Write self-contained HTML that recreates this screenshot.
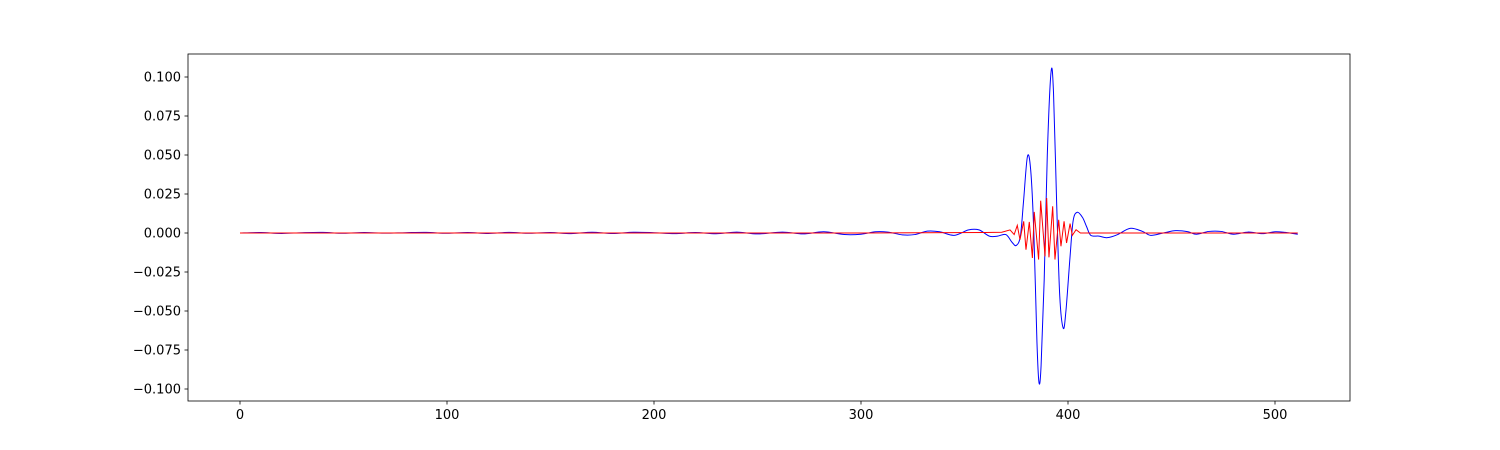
<!DOCTYPE html>
<html><head><meta charset="utf-8"><style>
body{margin:0;background:#fff;}
svg{display:block;font-family:"DejaVu Sans","Liberation Sans",sans-serif;}
</style></head><body>
<svg id="chart" width="1500" height="450" viewBox="0 0 1500 450"></svg>
<script>
const xTicks=[0,100,200,300,400,500];
const yTicks=[-0.100,-0.075,-0.050,-0.025,0.000,0.025,0.050,0.075,0.100];
const blueIdx=[0,10,20,30,40,50,60,70,80,90,100,110,120,130,140,150,160,170,180,190,200,210,220,230,240,250,262,272,282,292,300,307,313,320,326,332,338,345,352,357,362,366,370,373,375,377,378.5,380.4,382,383.5,385,386,387,388.5,390,391.8,393,394.5,396,397.7,399,401,402.5,404.5,407,409,411,415,419,424,430,436,440,446,452,458,462,468,474,480,487,494,500,505,511];
const blueVal=[0,0.0003,-0.0003,0.0002,0.0004,-0.0002,0.0003,-0.0001,0.0002,0.0004,-0.0002,0.0003,-0.0003,0.0004,-0.0002,0.0003,-0.0004,0.0005,-0.0003,0.0005,0.0002,-0.0004,0.0003,-0.0005,0.0006,-0.0006,0.0006,-0.0006,0.0008,-0.001,-0.0008,0.0008,0.0006,-0.0012,-0.001,0.0012,0.0008,-0.0015,0.002,0.002,-0.002,-0.002,-0.001,-0.006,-0.008,-0.002,0.02,0.049,0.04,0.0,-0.07,-0.096,-0.085,-0.03,0.05,0.103,0.09,0.02,-0.04,-0.061,-0.05,-0.015,0.008,0.0133,0.01,0.004,-0.0015,-0.002,-0.003,-0.001,0.003,0.001,-0.0015,0,0.0015,0.0008,-0.0008,0.001,0.001,-0.0008,0.0006,-0.0004,0.0008,0.0004,-0.0008];
const redIdx=[0,100,200,300,360,368,372,374,375.5,376.8,378.6,379.7,381.3,382.8,383.7,385.8,386.8,388.9,389.7,390.8,392.6,393.7,395.5,396.6,398.1,399.3,401,402.1,403.9,406,411];
const redVal=[0,0,0,0,0.0003,0.0005,0.002,-0.001,0.0049,-0.0043,0.0075,-0.0107,0.0071,-0.016,0.0135,-0.017,0.0207,-0.015,0.0224,-0.0156,0.0171,-0.017,0.0085,-0.0085,0.0075,-0.0064,0.006,-0.0015,0.0021,0,0];
const redTail=[412,511];
const redTailVal=[0,0];

const svg=document.getElementById('chart');
const NS='http://www.w3.org/2000/svg';
const L=188,R=1350,T=54,B=401;
const xs=v=>240+v*2.07;
const ys=v=>233-v*1560;
function mk(tag,attrs,parent){const e=document.createElementNS(NS,tag);for(const k in attrs)e.setAttribute(k,attrs[k]);(parent||svg).appendChild(e);return e;}

const frame=mk('rect',{x:L,y:T,width:R-L,height:B-T,fill:'none',stroke:'#000','stroke-width':0.8});



xTicks.forEach(t=>{
  const g=mk('g',{});
  
  
  mk('line',{x1:xs(t),x2:xs(t),y1:B,y2:B+3.5,stroke:'#000','stroke-width':0.8},g);
  const tx=mk('text',{x:xs(t),y:B+18,'text-anchor':'middle','font-size':13,fill:'#000'},g);
  tx.textContent=t;
});
yTicks.forEach(t=>{
  const g=mk('g',{});
  
  
  mk('line',{x1:L,x2:L-3.5,y1:ys(t),y2:ys(t),stroke:'#000','stroke-width':0.8},g);
  const tx=mk('text',{x:L-7,y:ys(t)+4.5,'text-anchor':'end','font-size':13,fill:'#000'},g);
  tx.textContent=(t<0?'\u2212':'')+Math.abs(t).toFixed(3);
});

function smooth(xi,yi){
  const p=xi.map((x,i)=>[xs(x),ys(yi[i])]);
  let d='M'+p[0][0]+','+p[0][1];
  for(let i=0;i<p.length-1;i++){
    const p0=p[Math.max(0,i-1)],p1=p[i],p2=p[i+1],p3=p[Math.min(p.length-1,i+2)];
    const c1=[p1[0]+(p2[0]-p0[0])/6,p1[1]+(p2[1]-p0[1])/6];
    const c2=[p2[0]-(p3[0]-p1[0])/6,p2[1]-(p3[1]-p1[1])/6];
    d+=' C'+c1[0]+','+c1[1]+' '+c2[0]+','+c2[1]+' '+p2[0]+','+p2[1];
  }
  return d;
}
const blue=mk('path',{d:smooth(blueIdx,blueVal),fill:'none',stroke:'#0000ff','stroke-width':1});


const rx=redIdx.concat(redTail), ry=redVal.concat(redTailVal);
const red=mk('polyline',{points:rx.map((x,i)=>xs(x)+','+ys(ry[i])).join(' '),fill:'none',stroke:'#ff0000','stroke-width':1});


</script>
</body></html>
